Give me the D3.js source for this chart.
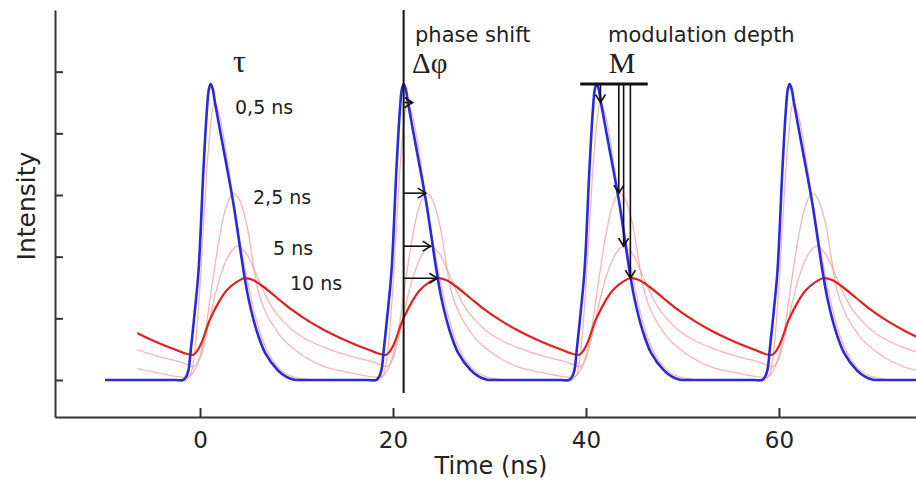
<!DOCTYPE html>
<html><head><meta charset="utf-8">
<script src="https://cdn.jsdelivr.net/npm/d3@7"></script>
<style>body{margin:0;background:#fff}svg{display:block}</style>
</head><body>
<svg id="c" width="916" height="488"></svg>
<script>
// ---- data ----
const pulseTimes = [-20, 0, 20, 40, 60];
const xTickValues = [0, 20, 40, 60];
const yTickValues = [0, 1, 2, 3, 4, 5];
const lifetimeLabels = ["0,5 ns", "2,5 ns", "5 ns", "10 ns"];
// one period of each curve, time relative to pulse start (ns), intensity
const excitation = [[-1.75,0],[-1.45,0.05],[-1.2,0.16],[-0.95,0.5],[-0.55,1.1],[-0.15,1.78],[0.35,3.4],[0.7,4.35],[0.92,4.72],[1.1,4.8],[1.3,4.73],[1.55,4.5],[2.2,3.94],[3.45,2.87],[4.5,1.78],[5.05,1.3],[5.85,0.81],[6.75,0.44],[8.05,0.16],[8.95,0.05],[9.75,0.005],[10.6,0],[12,0],[14,0],[16,0],[17.4,0],[18.25,0]];
const decay05 = [[-1.5,0],[-1.0,0.08],[-0.6,0.4],[-0.1,1.3],[0.4,2.6],[0.9,3.8],[1.5,4.5],[2.0,4.3],[2.7,3.7],[3.7,2.65],[4.8,1.7],[5.7,1.05],[6.6,0.6],[7.7,0.28],[8.8,0.11],[10.2,0.03],[12,0],[14,0],[16,0],[17.5,0],[18.5,0]];
const decay25 = [[-1.2,0.05],[-0.6,0.15],[0,0.4],[0.6,0.85],[1.3,1.6],[2.0,2.3],[2.7,2.8],[3.4,3.03],[4.0,2.95],[4.8,2.55],[5.4,2.0],[6.0,1.46],[6.8,1.1],[7.6,0.88],[8.5,0.68],[9.5,0.53],[11,0.36],[13,0.21],[15.5,0.12],[18.8,0.05]];
const decay5 = [[-0.6,0.22],[0,0.35],[0.6,0.7],[1.3,1.2],[2.1,1.68],[3.0,2.03],[3.9,2.17],[4.8,2.05],[5.8,1.72],[6.8,1.37],[7.8,1.1],[9.5,0.82],[11,0.66],[13,0.52],[15.5,0.39],[18,0.29],[19.4,0.22]];
const decay10 = [[-0.7,0.41],[0,0.55],[1.0,0.97],[2.0,1.28],[2.8,1.46],[3.7,1.58],[4.6,1.65],[5.5,1.62],[6.5,1.52],[8.0,1.33],[9.5,1.14],[11.3,0.95],[13,0.8],[14.7,0.67],[17,0.52],[19.3,0.41]];
const peakTimes = [1.5, 3.4, 3.9, 4.6];
const peakValues = [4.5, 3.03, 2.17, 1.65];
const excitationPeakTime = 1.1, excitationPeakValue = 4.8;
const excitationStart = -9.85, emissionStart = -6.5;

// ---- drawing ----
const svg = d3.select("#c");
const W = 916, H = 488;
const x = d3.scaleLinear().domain([-15.03, 74.2]).range([55, 916]);
const y = d3.scaleLinear().domain([-0.6, 6.0]).range([417, 10]);

function tile(shape) {
  const out = [];
  pulseTimes.forEach(p => shape.forEach(([t, v]) => {
    const tt = t + p;
    if (out.length && tt <= out[out.length - 1][0] + 1e-9) return;
    out.push([tt, v]);
  }));
  return out;
}
const line = d3.line().x(d => x(d[0])).y(d => y(d[1])).curve(d3.curveCatmullRom.alpha(0.5));

const defs = svg.append("defs");
function clip(id, t0) {
  defs.append("clipPath").attr("id", id).append("rect")
    .attr("x", x(t0)).attr("y", 0).attr("width", W - x(t0)).attr("height", H);
}
clip("clipEx", excitationStart);
clip("clipEm", emissionStart);
defs.append("marker").attr("id", "arr").attr("markerUnits", "userSpaceOnUse")
  .attr("viewBox", "-10 -6 12 12").attr("refX", 0).attr("refY", 0)
  .attr("markerWidth", 12).attr("markerHeight", 12).attr("orient", "auto")
  .append("path").attr("d", "M-8,-5 L0,0 L-8,5").attr("fill", "none")
  .attr("stroke", "#111").attr("stroke-width", 1.6);

// axes
const yAxis = d3.axisRight(y).tickValues(yTickValues).tickSize(8).tickSizeOuter(0).tickFormat("");
const ya = svg.append("g").attr("transform", "translate(55,0)").call(yAxis);
ya.select(".domain").attr("stroke", "#333").attr("stroke-width", 2);
ya.selectAll(".tick line").attr("stroke", "#333").attr("stroke-width", 2);

const xAxis = d3.axisBottom(x).tickValues(xTickValues).tickSizeInner(-9).tickSizeOuter(0).tickPadding(15);
const xa = svg.append("g").attr("transform", "translate(0,417)").call(xAxis);
xa.select(".domain").attr("stroke", "#333").attr("stroke-width", 2);
xa.selectAll(".tick line").attr("stroke", "#333").attr("stroke-width", 2);
xa.selectAll(".tick text").attr("font-family", "DejaVu Sans").attr("font-size", 23).attr("fill", "#222");

// curves
const em = svg.append("g").attr("clip-path", "url(#clipEm)");
[decay05, decay25, decay5].forEach(s => {
  em.append("path").attr("d", line(tile(s))).attr("fill", "none")
    .attr("stroke", "#f19c9c").attr("stroke-width", 1.3).attr("stroke-opacity", 0.75);
});
em.append("path").attr("d", line(tile(decay10))).attr("fill", "none")
  .attr("stroke", "#e0201e").attr("stroke-width", 2.2);
svg.append("g").attr("clip-path", "url(#clipEx)").append("path")
  .attr("d", line(tile(excitation))).attr("fill", "none")
  .attr("stroke", "#2a2ad8").attr("stroke-width", 2.6);

// phase shift annotation
const phaseT = 20 + excitationPeakTime;
svg.append("line").attr("x1", x(phaseT)).attr("x2", x(phaseT)).attr("y1", 10).attr("y2", 393)
  .attr("stroke", "#111").attr("stroke-width", 2);
peakTimes.forEach((pt, i) => {
  svg.append("line").attr("x1", x(phaseT)).attr("x2", Math.max(x(20 + pt), x(phaseT) + 9))
    .attr("y1", y(peakValues[i])).attr("y2", y(peakValues[i]))
    .attr("stroke", "#111").attr("stroke-width", 1.6).attr("marker-end", "url(#arr)");
});

// modulation depth annotation
svg.append("line").attr("x1", x(39.4)).attr("x2", x(46.4))
  .attr("y1", y(excitationPeakValue)).attr("y2", y(excitationPeakValue))
  .attr("stroke", "#111").attr("stroke-width", 3);
peakTimes.forEach((pt, i) => {
  svg.append("line").attr("x1", x(40 + pt)).attr("x2", x(40 + pt))
    .attr("y1", y(excitationPeakValue)).attr("y2", Math.max(y(peakValues[i]), y(excitationPeakValue) + 12))
    .attr("stroke", "#111").attr("stroke-width", 1.6).attr("marker-end", "url(#arr)");
});

// texts
const txt = (s, px, py, size, fam, anchor) => svg.append("text").text(s)
  .attr("x", px).attr("y", py).attr("font-size", size).attr("font-family", fam || "DejaVu Sans")
  .attr("text-anchor", anchor || "start").attr("fill", "#222");
txt("τ", 233, 72, 32, "Liberation Serif");
const labelPos = [[235, 114], [253, 204], [273, 255], [290, 290]];
lifetimeLabels.forEach((s, i) => txt(s, labelPos[i][0], labelPos[i][1], 19));
txt("phase shift", 415, 42, 21);
txt("Δφ", 412, 73, 29, "Liberation Serif");
txt("modulation depth", 608, 42, 21);
txt("M", 622, 73, 30, "Liberation Serif", "middle");
txt("Time (ns)", 491, 474, 24, "DejaVu Sans", "middle");
svg.append("text").text("Intensity").attr("transform", "translate(35,206) rotate(-90)")
  .attr("text-anchor", "middle").attr("font-size", 25).attr("font-family", "DejaVu Sans").attr("fill", "#222");
</script>
</body></html>
